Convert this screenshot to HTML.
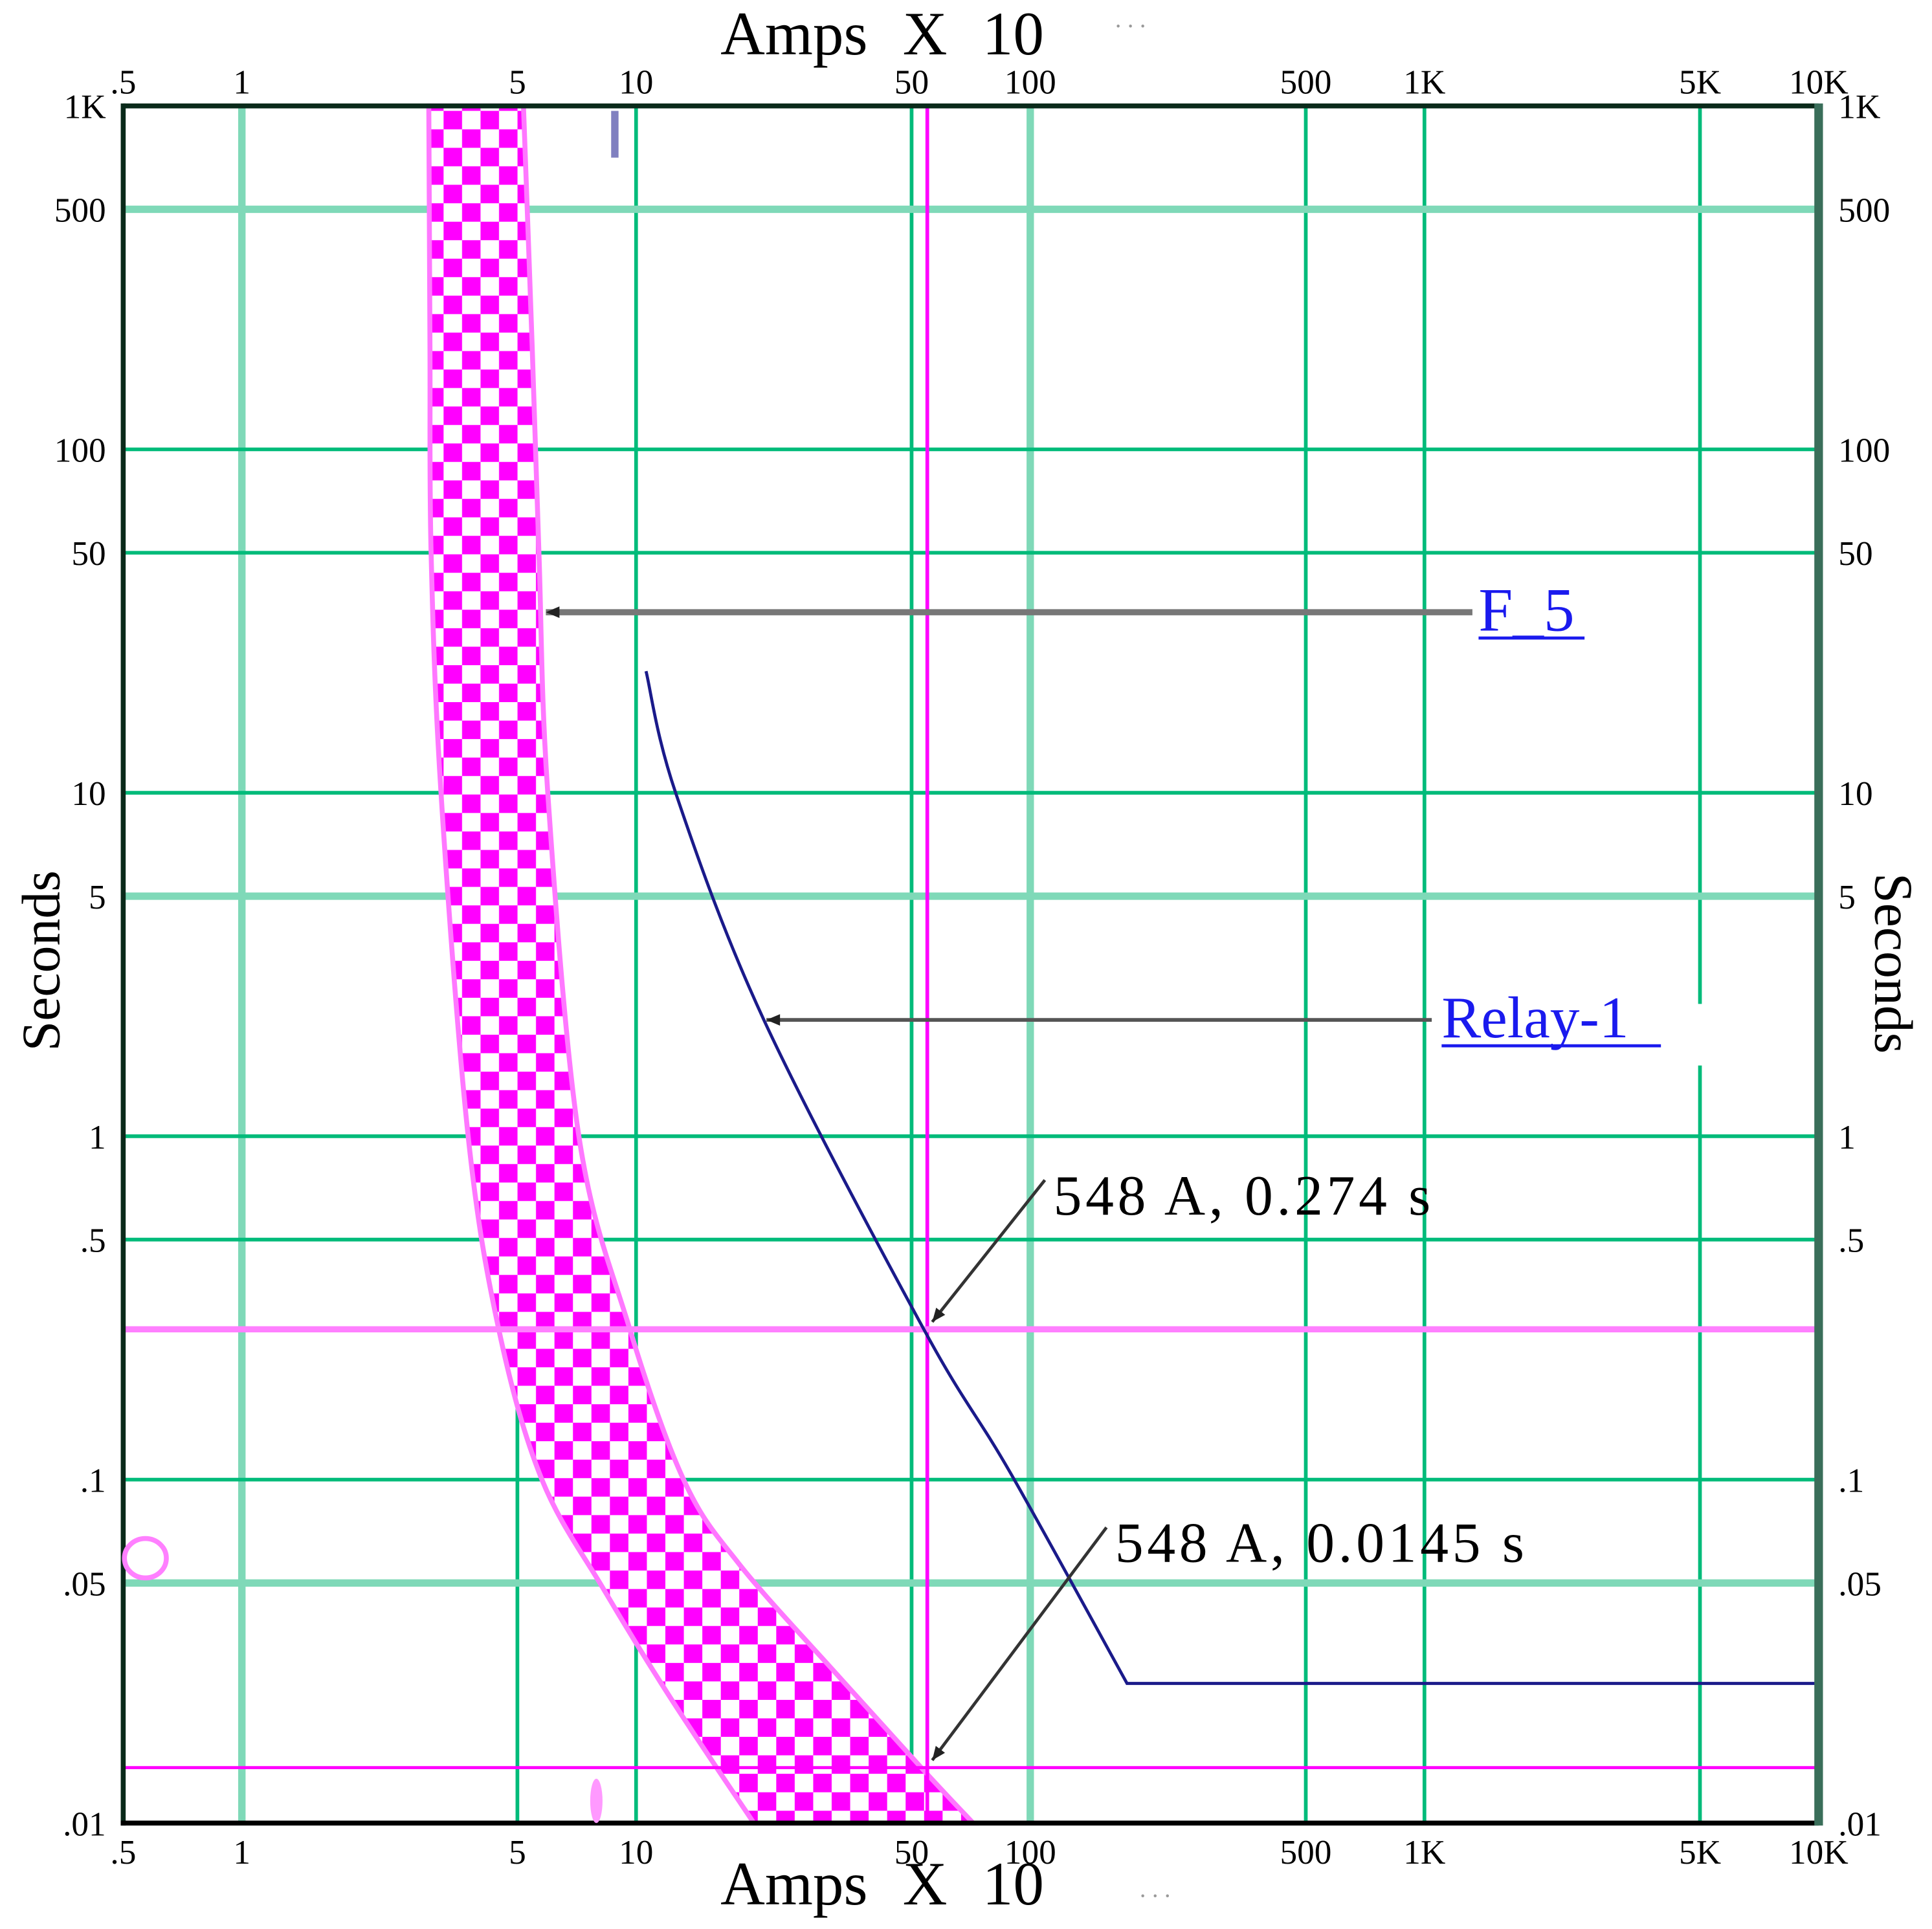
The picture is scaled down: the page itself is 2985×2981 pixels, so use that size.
<!DOCTYPE html>
<html><head><meta charset="utf-8"><style>
html,body{margin:0;padding:0;background:#fff;}
svg{display:block;}
text{font-family:"Liberation Serif",serif;}
</style></head><body>
<svg id="chart" width="2985" height="2981" viewBox="0 0 1568 1566" preserveAspectRatio="none" xmlns="http://www.w3.org/2000/svg">
<defs>
<pattern id="chk" width="30" height="30" patternUnits="userSpaceOnUse">
<rect width="30" height="30" fill="#fff"/>
<rect width="15" height="15" fill="#ff00ff"/>
<rect x="15" y="15" width="15" height="15" fill="#ff00ff"/>
</pattern>
</defs>
<g id="grid"></g>
<g id="marks"></g>
<g id="frame"></g>
<g id="labels"></g>
</svg>
<script>
const xTickValues=[0.5,1,5,10,50,100,500,1000,5000,10000];
const xTickLabels=[".5","1","5","10","50","100","500","1K","5K","10K"];
const xTickLight=[false,true,false,false,false,true,false,false,false,false];
const yTickValues=[1000,500,100,50,10,5,1,0.5,0.1,0.05,0.01];
const yTickLabels=["1K","500","100","50","10","5","1",".5",".1",".05",".01"];
const yTickLight=[false,true,false,false,false,true,false,false,false,true,false];
const fuseLeftX=[2.98,3.0,3.02,3.2,3.75,4.49,5.77,8.27,12.3,19.9];
const fuseLeftY=[1000,200,50,10,1,0.272,0.1,0.048,0.0229,0.01];
const fuseRightX=[5.18,5.45,5.67,5.97,7.16,9.55,13.2,18.3,32.5,52.9,71.6];
const fuseRightY=[1000,200,50,10,1,0.284,0.1,0.0566,0.0269,0.0145,0.01];
const relayX=[10.6,12.6,21.1,53.7,88.9,176];
const relayY=[22.6,10,2.18,0.274,0.105,0.0255];
const relayFlatEnd=[10000];
const markerAmps=[54.8];
const markerTimes=[0.274,0.0145];
const annotationLabels=["548 A, 0.274 s","548 A, 0.0145 s"];

const L=100,R=1476,T=86,B=1480;
function X(v){return L+(Math.log10(v)-Math.log10(0.5))/(Math.log10(10000)-Math.log10(0.5))*(R-L);}
function Y(v){return T+(3-Math.log10(v))/5*(B-T);}
const NS="http://www.w3.org/2000/svg";
function mk(tag,parent,attrs){const e=document.createElementNS(NS,tag);for(const k in attrs)e.setAttribute(k,attrs[k]);document.getElementById(parent).appendChild(e);return e;}
function smooth(pts){
  let d='';
  for(let i=0;i<pts.length-1;i++){
    const p0=pts[Math.max(0,i-1)],p1=pts[i],p2=pts[i+1],p3=pts[Math.min(pts.length-1,i+2)];
    const c1=[p1[0]+(p2[0]-p0[0])/6,p1[1]+(p2[1]-p0[1])/6];
    const c2=[p2[0]-(p3[0]-p1[0])/6,p2[1]-(p3[1]-p1[1])/6];
    d+=` C${c1[0]},${c1[1]} ${c2[0]},${c2[1]} ${p2[0]},${p2[1]}`;
  }
  return d;
}
const LIGHT="#7fd9b8",GREEN="#00bb7a";
xTickValues.forEach((v,i)=>{
  const x=X(v);
  if(i>0&&i<xTickValues.length-1){
    const g=mk('line','grid',{x1:x,x2:x,y1:T,y2:B,stroke:xTickLight[i]?LIGHT:GREEN,'stroke-width':xTickLight[i]?6:3});
    
    
  }
  const t1=mk('text','labels',{x:x,y:76,'font-size':28,'text-anchor':'middle'});t1.textContent=xTickLabels[i];
  
  
  const t2=mk('text','labels',{x:x,y:1513,'font-size':28,'text-anchor':'middle'});t2.textContent=xTickLabels[i];
  
  
});
yTickValues.forEach((v,i)=>{
  const y=Y(v);
  if(i>0&&i<yTickValues.length-1){
    const g=mk('line','grid',{x1:L,x2:R,y1:y,y2:y,stroke:yTickLight[i]?LIGHT:GREEN,'stroke-width':yTickLight[i]?6:3});
    
    
  }
  const t1=mk('text','labels',{x:86,y:y+10,'font-size':28,'text-anchor':'end'});t1.textContent=yTickLabels[i];
  
  
  const t2=mk('text','labels',{x:1492,y:y+10,'font-size':28,'text-anchor':'start'});t2.textContent=yTickLabels[i];
  
  
});
// fuse band
const lp=fuseLeftX.map((v,i)=>[X(v),Y(fuseLeftY[i])]);
const rp=fuseRightX.map((v,i)=>[X(v),Y(fuseRightY[i])]).reverse();
let d='M'+lp[0][0]+','+lp[0][1]+smooth(lp)+' L'+rp[0][0]+','+rp[0][1]+smooth(rp)+' Z';
const band=mk('path','marks',{d:d,fill:'url(#chk)',stroke:'#ff77ff','stroke-width':4});


// marker lines
markerAmps.forEach(a=>{const l=mk('line','marks',{x1:X(a),x2:X(a),y1:T,y2:B,stroke:'#ff00ff','stroke-width':3});

});
markerTimes.forEach((t,i)=>{const l=mk('line','marks',{x1:L,x2:R,y1:Y(t),y2:Y(t),stroke:i==0?'#ff80ff':'#ff00ff','stroke-width':i==0?5:2.5});

});
// relay
const rpts=relayX.map((v,i)=>[X(v),Y(relayY[i])]);
const last=relayY[relayY.length-1];
const rl=mk('path','marks',{d:'M'+rpts[0][0]+','+rpts[0][1]+smooth(rpts)+' L'+X(relayFlatEnd[0])+','+Y(last),fill:'none',stroke:'#1a1a8a','stroke-width':2.5});


// annotation arrows
function arrow(x1,y1,x2,y2,color,w,name){
  const l=mk('line','labels',{x1:x1,y1:y1,x2:x2,y2:y2,stroke:color,'stroke-width':w});
  
  
  const a=Math.atan2(y2-y1,x2-x1),s=12;
  const p=mk('polygon','labels',{points:`${x2},${y2} ${x2-s*Math.cos(a-0.4)},${y2-s*Math.sin(a-0.4)} ${x2-s*Math.cos(a+0.4)},${y2-s*Math.sin(a+0.4)}`,fill:'#222'});
  
  
}
arrow(1195,497,443,497,'#777',5,'f5-leader-arrow');
arrow(1162,828,622,828,'#555',3,'relay-leader-arrow');
arrow(848,958,X(markerAmps[0])+4,Y(markerTimes[0])-6,'#333',2.5,'annotation-arrow-1');
arrow(898,1240,X(markerAmps[0])+4,Y(markerTimes[1])-6,'#333',2.5,'annotation-arrow-2');
const an1=mk('text','labels',{x:855,y:986,'font-size':46,'letter-spacing':3});an1.textContent=annotationLabels[0];


const an2=mk('text','labels',{x:905,y:1268,'font-size':46,'letter-spacing':3});an2.textContent=annotationLabels[1];


</script>
<script>
(function(){
const NS="http://www.w3.org/2000/svg";
function mk(tag,parent,attrs){const e=document.createElementNS(NS,tag);for(const k in attrs)e.setAttribute(k,attrs[k]);document.getElementById(parent).appendChild(e);return e;}
const f1=mk('line','frame',{x1:100,y1:86,x2:1476,y2:86,stroke:'#0a2a1a','stroke-width':4});


const f2=mk('line','frame',{x1:100,y1:84,x2:100,y2:1482,stroke:'#0a2a1a','stroke-width':4});


const f3=mk('line','frame',{x1:98,y1:1480,x2:1476,y2:1480,stroke:'#000','stroke-width':4});


const f4=mk('line','frame',{x1:1476,y1:84,x2:1476,y2:1482,stroke:'#3a6e5a','stroke-width':7});


const g=mk('rect','frame',{x:1370,y:815,width:20,height:50,fill:'#fff'});


const b=mk('line','frame',{x1:499,y1:90,x2:499,y2:128,stroke:'#8080c0','stroke-width':6});


const e=mk('ellipse','frame',{cx:118,cy:1265,rx:17,ry:16,fill:'none',stroke:'#ff80ff','stroke-width':4});


const e2=mk('ellipse','frame',{cx:484,cy:1462,rx:5,ry:18,fill:'#ff99ff'});


})();
</script>
<svg style="position:absolute;left:0;top:0" width="2985" height="2981" viewBox="0 0 1568 1566" preserveAspectRatio="none" xmlns="http://www.w3.org/2000/svg">
<text x="716" y="44" font-size="50" text-anchor="middle" word-spacing="16" font-family="Liberation Serif, serif">Amps X 10</text>
<text x="905" y="22" font-size="20" fill="#999" font-family="Liberation Serif, serif">. . .</text>
<text x="716" y="1546" font-size="50" text-anchor="middle" word-spacing="16" font-family="Liberation Serif, serif">Amps X 10</text>
<text x="925" y="1540" font-size="20" fill="#999" font-family="Liberation Serif, serif">. . .</text>
<text transform="translate(48,780) rotate(-90)" font-size="44" text-anchor="middle" font-family="Liberation Serif, serif">Seconds</text>
<text transform="translate(1522,782) rotate(90)" font-size="44" text-anchor="middle" font-family="Liberation Serif, serif">Seconds</text>
<text x="1200" y="512" font-size="50" fill="#1a1aee" font-family="Liberation Serif, serif">F_5</text>
<line x1="1200" y1="518" x2="1286" y2="518" stroke="#1a1aee" stroke-width="2.5"/>
<text x="1170" y="842" font-size="48" fill="#1a1aee" font-family="Liberation Serif, serif">Relay-1</text>
<line x1="1170" y1="849" x2="1348" y2="849" stroke="#1a1aee" stroke-width="2.5"/>
</svg>
</body></html>
